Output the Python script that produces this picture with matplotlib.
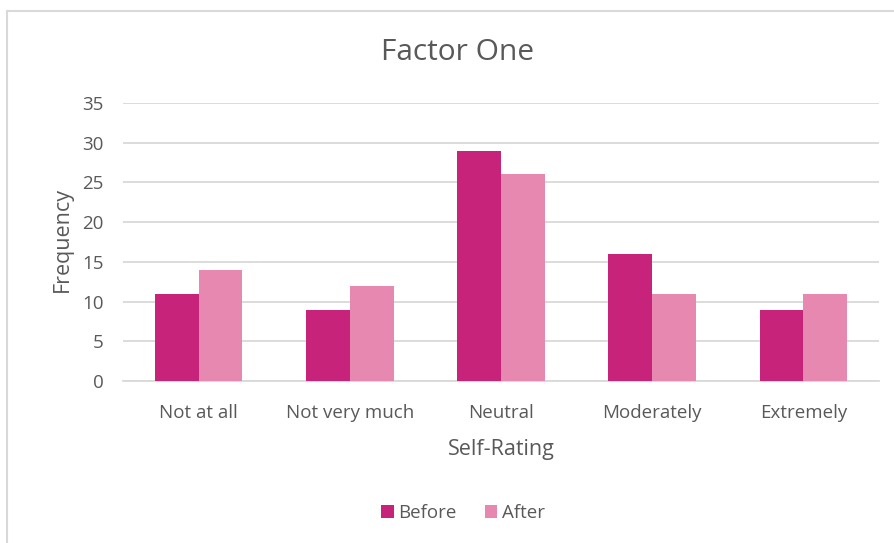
import matplotlib
matplotlib.use("Agg")
import matplotlib.pyplot as plt
import numpy as np
from matplotlib.patches import Rectangle

categories = ["Not at all", "Not very much", "Neutral", "Moderately", "Extremely"]
before = [11, 9, 29, 16, 9]
after = [14, 12, 26, 11, 11]
y_ticks = [0, 5, 10, 15, 20, 25, 30, 35]

plt.rcParams["font.family"] = ["Open Sans", "DejaVu Sans"]
text_color = "#595959"
c_before = "#C8237A"
c_after = "#E688AF"

W, H = 894, 543
fig = plt.figure(figsize=(W / 100, H / 100), dpi=100)
fig.patch.set_facecolor("white")

# outer chart border
fig.patches.append(Rectangle((7 / W, -0.1), 1.2, (H - 11) / H + 0.1,
                             transform=fig.transFigure, fill=False,
                             edgecolor="#D9D9D9", linewidth=1.5))

ax_l, ax_r, ax_t, ax_b = 123, 879, 103, 381
ax_h = ax_b - ax_t
ax_w = ax_r - ax_l
ax = fig.add_axes([ax_l / W, 1 - ax_b / H, ax_w / W, ax_h / H])

x = np.arange(len(categories))
bw = 0.29
ax.bar(x - bw / 2, before, bw, color=c_before, label="Before", zorder=3)
ax.bar(x + bw / 2, after, bw, color=c_after, label="After", zorder=3)

ax.set_xlim(-0.5, len(categories) - 0.5)
ax.set_ylim(0, 35)
ax.set_yticks(y_ticks)
ax.set_xticks(x)
ax.set_xticklabels(categories)
ax.yaxis.grid(True, color="#D9D9D9", linewidth=1.3, zorder=0)
ax.set_axisbelow(True)
for s in ["top", "right", "left"]:
    ax.spines[s].set_visible(False)
ax.spines["bottom"].set_color("#D9D9D9")
ax.spines["bottom"].set_linewidth(1.3)
ax.tick_params(axis="both", length=0, labelsize=13.5, colors=text_color)
ax.tick_params(axis="x", pad=16.5)
ax.tick_params(axis="y", pad=14)

ax.set_xlabel("Self-Rating", fontsize=15.5, color=text_color, va="center")
ax.set_ylabel("Frequency", fontsize=15.5, color=text_color, va="center")
ax.xaxis.set_label_coords(0.5, (ax_b - 449) / ax_h)
ax.yaxis.set_label_coords((62 - ax_l) / ax_w, (ax_b - 240) / ax_h)

fig.text(458 / W, 1 - 52 / H, "Factor One", ha="center", va="center",
         fontsize=21.5, color=text_color)

leg = fig.legend(loc="center", bbox_to_anchor=(463 / W, 1 - 513 / H), ncol=2,
                 frameon=False, fontsize=13.5, handlelength=0.65,
                 handleheight=0.65, handletextpad=0.25, columnspacing=1.5)
for t in leg.get_texts():
    t.set_color(text_color)

fig.savefig("out.png", dpi=100, facecolor="white")
